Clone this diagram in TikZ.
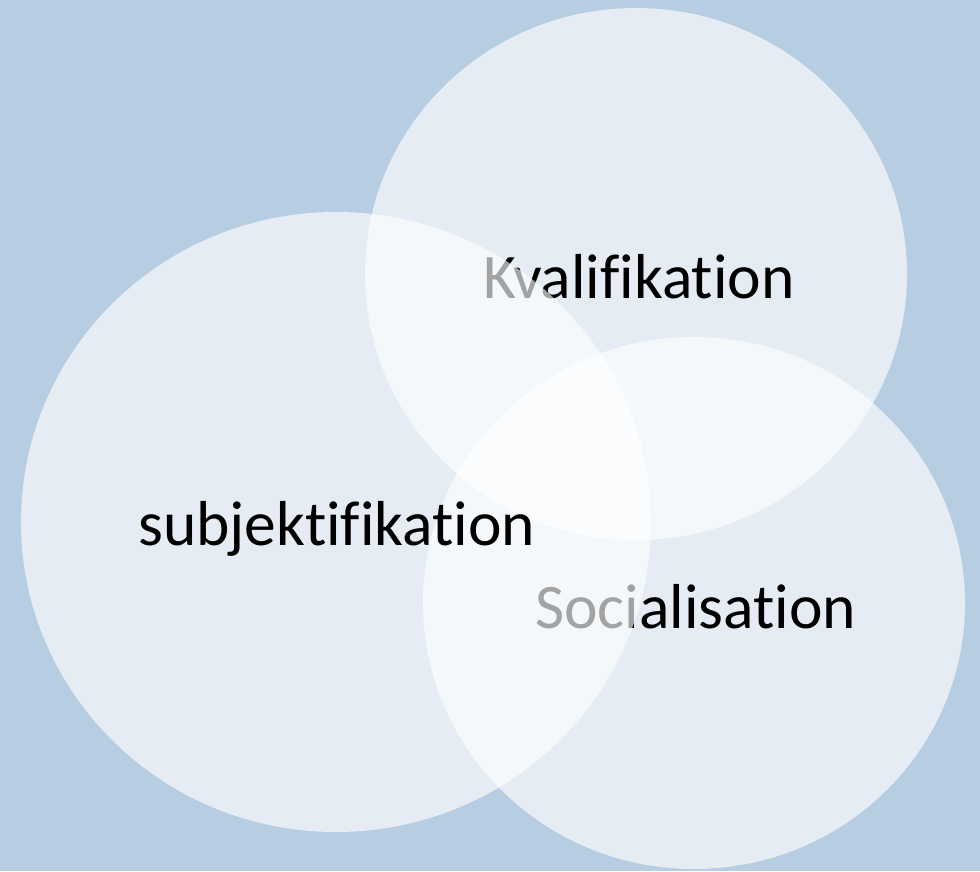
\documentclass[tikz,border=0pt]{standalone}
\usepackage{fontspec}
\setmainfont[Ligatures=NoCommon]{Carlito}
\usepackage{tikz}
\definecolor{backblue}{RGB}{183,205,225}
\tikzstyle{bubble} = [ellipse,fill=white,fill opacity=0.64,draw=none,inner sep=0pt]
\tikzstyle{labeltext} = [anchor=base west,inner sep=0pt,font=\fontsize{63.5}{74}\selectfont]
\usetikzlibrary{shapes.geometric}
\usetikzlibrary{positioning}

\begin{document}
\begin{tikzpicture}[x=1pt,y=-1pt]
        \fill[backblue] (0,0) rectangle (980,871);
        \useasboundingbox (0,0) rectangle (980,871);

        % Kvalifikation
        \node[bubble,minimum width=542pt,minimum height=532pt] (2) at (636,274) {};
        \node[labeltext] (k) at (483,298) {Kvalifikation};

        % Socialisation
        \node[bubble,minimum width=542pt,minimum height=532pt] (3) at (694,603) {};
        \node[labeltext] (s) at (535,628) {Socialisation};

        % subjektifikation (on top)
        \node[bubble,minimum width=630pt,minimum height=620pt] (1) at (336,522) {};
        \node[labeltext] (u) at (138,545) {subjektifikation};
\end{tikzpicture}
\end{document}
